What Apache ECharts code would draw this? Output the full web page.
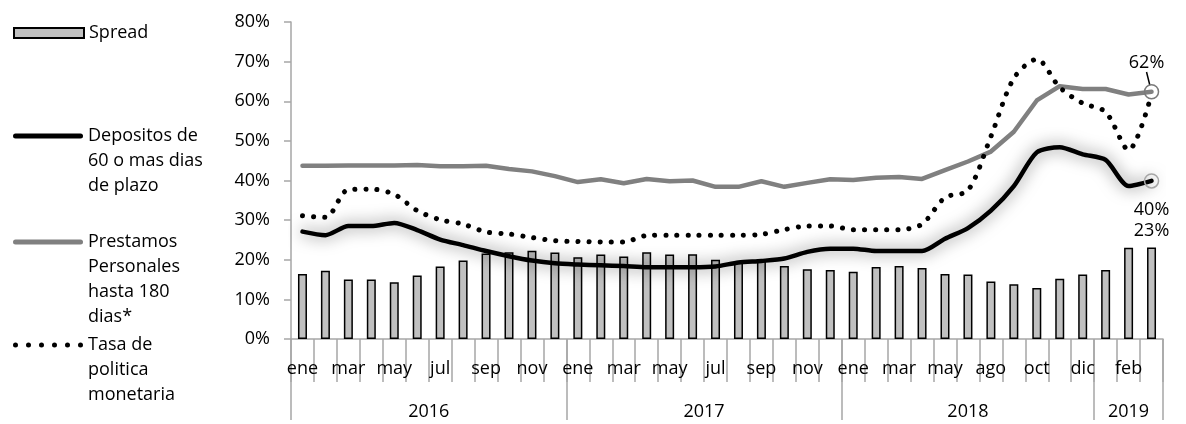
<!DOCTYPE html>
<html>
<head>
<meta charset="utf-8">
<script src="https://cdn.jsdelivr.net/npm/echarts@6/dist/echarts.min.js"></script>
<style>
html,body{margin:0;padding:0;background:#fff;}
#c{width:1186px;height:424px;}
</style>
</head>
<body>
<div id="c"></div>
<script>
// ---- data ----
const months = [
  'ene','feb','mar','abr','may','jun','jul','ago','sep','oct','nov','dic',
  'ene','feb','mar','abr','may','jun','jul','ago','sep','oct','nov','dic',
  'ene','feb','mar','abr','may','jun','ago','sep','oct','nov','dic',
  'ene','feb','mar'
];
const yearLabels = ['2016','2017','2018','2019'];
const yearCounts = [12, 12, 11, 3];
const yTicks = [0, 10, 20, 30, 40, 50, 60, 70, 80];

const spread = [
  16.4,17.2,15.0,15.0,14.3,16.0,18.3,19.8,21.6,21.9,22.3,21.8,
  20.6,21.3,20.8,21.9,21.3,21.4,20.0,19.5,20.1,18.4,17.6,17.4,
  17.0,18.2,18.4,17.9,16.4,16.3,14.5,13.8,12.9,15.2,16.3,
  17.4,23.0,23.1
];
const depositos = [
  27.1,26.2,28.5,28.5,29.3,27.5,25.1,23.7,22.2,20.9,19.8,19.1,
  18.8,18.6,18.4,18.1,18.1,18.1,18.3,19.3,19.7,20.3,22.0,22.8,
  22.8,22.2,22.2,22.2,25.3,28.0,32.4,38.6,47.1,48.4,46.6,
  45.2,38.6,39.9
];
const prestamos = [
  43.7,43.7,43.8,43.8,43.8,43.9,43.6,43.6,43.7,42.9,42.3,41.1,
  39.6,40.3,39.3,40.4,39.8,40.0,38.4,38.4,39.8,38.4,39.4,40.3,
  40.1,40.7,40.9,40.4,42.6,44.8,47.3,52.3,60.2,63.8,63.1,
  63.1,61.7,62.4
];
const tasa = [
  31.1,30.7,37.7,37.8,36.5,32.4,30.1,29.0,27.0,26.5,25.6,24.8,
  24.6,24.5,24.5,26.1,26.2,26.2,26.2,26.2,26.4,27.6,28.5,28.5,
  27.6,27.6,27.6,29.0,35.7,37.5,51.1,65.8,70.6,63.5,59.5,
  57.3,47.7,61.8
];

const seriesNames = [
  'Spread',
  'Depositos de 60 o mas dias de plazo',
  'Prestamos Personales hasta 180 dias*',
  'Tasa de politica monetaria'
];
const legendLines = {
  'Spread': ['Spread'],
  'Depositos de 60 o mas dias de plazo': ['Depositos de', '60 o mas dias', 'de plazo'],
  'Prestamos Personales hasta 180 dias*': ['Prestamos', 'Personales', 'hasta 180', 'dias*'],
  'Tasa de politica monetaria': ['Tasa de', 'politica', 'monetaria']
};

// ---- derived ----
const FONT = 'Open Sans';
const LH = 25;
const N = months.length;
const last = N - 1;
const cats = months.map((m, i) => m + '_' + i);
const yearStarts = [];
const yearLabelAt = {};
let acc = 0;
yearCounts.forEach((c, k) => {
  yearStarts.push(acc);
  const center = acc + (c - 1) / 2;
  const idx = Math.floor(center);
  yearLabelAt[idx] = { text: yearLabels[k], half: center !== idx };
  acc += c;
});
const pct = v => Math.round(v) + '%';

function endPoint(arr, ring, label) {
  return arr.map((v, i) => i === last ? {
    value: v,
    symbol: 'circle',
    symbolSize: 14,
    itemStyle: { color: 'rgba(255,255,255,0)', borderColor: ring, borderWidth: 1.5 },
    label: Object.assign({ show: true }, label)
  } : v);
}

const LINE_ICON = 'path://M2.5,0 L67.5,0 A2.5,2.5 0 0 1 67.5,5 L2.5,5 A2.5,2.5 0 0 1 2.5,0 Z';
let dots = '';
[2.5, 15.5, 28.5, 41.5, 54.5, 67.5].forEach(cx => {
  dots += 'M' + (cx - 2.5) + ',2.5 A2.5,2.5 0 1 0 ' + (cx + 2.5) + ',2.5 A2.5,2.5 0 1 0 ' + (cx - 2.5) + ',2.5 Z ';
});
const DOT_ICON = 'path://' + dots;

function legendFor(name, iconCenter, icon, itemH, color) {
  const n = legendLines[name].length;
  const H = (2 * n - 1) * LH;
  const item = { name: name, icon: icon };
  if (color) item.itemStyle = { color: color, borderWidth: 0 };
  return {
    data: [item],
    orient: 'vertical',
    left: 13,
    top: iconCenter - H / 2,
    padding: 0,
    itemWidth: 70,
    itemHeight: itemH,
    selectedMode: false,
    formatter: nm => '\n'.repeat(n - 1) + legendLines[nm].join('\n'),
    textStyle: { fontFamily: FONT, fontSize: 18, color: '#000', lineHeight: LH }
  };
}

const chart = echarts.init(document.getElementById('c'), null, { renderer: 'canvas' });
chart.setOption({
  animation: false,
  backgroundColor: '#fff',
  textStyle: { fontFamily: FONT },
  legend: [
    legendFor(seriesNames[0], 33, 'rect', 10),
    legendFor(seriesNames[1], 136, LINE_ICON, 5, '#000'),
    legendFor(seriesNames[2], 242, LINE_ICON, 5, '#808080'),
    legendFor(seriesNames[3], 345, DOT_ICON, 5, '#000')
  ],
  grid: { left: 291, right: 23, top: 22, bottom: 81, containLabel: false },
  xAxis: [{
    type: 'category',
    data: cats,
    boundaryGap: true,
    axisLine: { show: true, lineStyle: { color: '#a6a6a6', width: 1.5 } },
    axisTick: { show: true, interval: 0, length: 43, lineStyle: { color: '#a6a6a6', width: 1.5 } },
    axisLabel: {
      interval: 1, margin: 18, fontFamily: FONT, fontSize: 18, color: '#000', lineHeight: 24,
      formatter: v => v.split('_')[0]
    },
    splitLine: { show: false },
    z: 1
  }, {
    type: 'category',
    data: cats,
    position: 'bottom',
    boundaryGap: true,
    axisLine: { show: false },
    axisTick: {
      show: true, length: 81,
      interval: i => yearStarts.indexOf(i) >= 0,
      lineStyle: { color: '#a6a6a6', width: 1.5 }
    },
    axisLabel: {
      margin: 61, fontFamily: FONT, fontSize: 18, color: '#000', lineHeight: 24,
      interval: i => !!yearLabelAt[i],
      formatter: (v, i) => {
        const y = yearLabelAt[i];
        if (!y) return '';
        return y.half ? '{h|' + y.text + '}' : '{f|' + y.text + '}';
      },
      rich: {
        h: { fontFamily: FONT, fontSize: 18, color: '#000', lineHeight: 24, padding: [0, 0, 0, 23] },
        f: { fontFamily: FONT, fontSize: 18, color: '#000', lineHeight: 24 }
      }
    },
    splitLine: { show: false }
  }],
  yAxis: {
    type: 'value',
    min: yTicks[0],
    max: yTicks[yTicks.length - 1],
    interval: yTicks[1] - yTicks[0],
    axisLine: { show: true, lineStyle: { color: '#a6a6a6', width: 1.5 } },
    axisTick: { show: true, length: 7, lineStyle: { color: '#a6a6a6', width: 1.5 } },
    splitLine: { show: false },
    axisLabel: { formatter: '{value}%', margin: 21, fontFamily: FONT, fontSize: 18, color: '#000' }
  },
  series: [{
    name: seriesNames[0],
    type: 'bar',
    barWidth: 9,
    itemStyle: { color: '#c0c0c0', borderColor: '#000', borderWidth: 1.5 },
    data: spread.map((v, i) => i === last ? {
      value: v,
      label: { show: true, position: 'top', distance: 8, formatter: p => pct(p.value),
        fontFamily: FONT, fontSize: 18, color: '#000' }
    } : v),
    z: 2
  }, {
    name: seriesNames[1],
    type: 'line',
    symbol: 'none',
    smooth: 0.25,
    color: '#000',
    lineStyle: { color: '#000', width: 4.5, cap: 'round', join: 'round',
      shadowColor: 'rgba(0,0,0,0.6)', shadowBlur: 16 },
    data: endPoint(depositos, '#a6a6a6', { position: 'bottom', distance: 12,
      formatter: p => pct(p.value), fontFamily: FONT, fontSize: 18, color: '#000' }),
    z: 3
  }, {
    name: seriesNames[2],
    type: 'line',
    symbol: 'none',
    color: '#808080',
    lineStyle: { color: '#808080', width: 4.5, cap: 'round', join: 'round' },
    labelLine: { show: true, lineStyle: { color: '#000', width: 1.5 } },
    labelLayout: p => p.dataIndex === last ? { dx: -5, dy: -8 } : {},
    data: endPoint(prestamos, '#7a7a7a', { position: 'top', distance: 4,
      formatter: p => pct(p.value), fontFamily: FONT, fontSize: 18, color: '#000' }),
    z: 4
  }, {
    name: seriesNames[3],
    type: 'line',
    symbol: 'none',
    smooth: 0.3,
    color: '#000',
    lineStyle: { color: '#000', width: 5, type: [0.1, 11], cap: 'round' },
    data: tasa,
    z: 5
  }]
});
</script>
</body>
</html>
